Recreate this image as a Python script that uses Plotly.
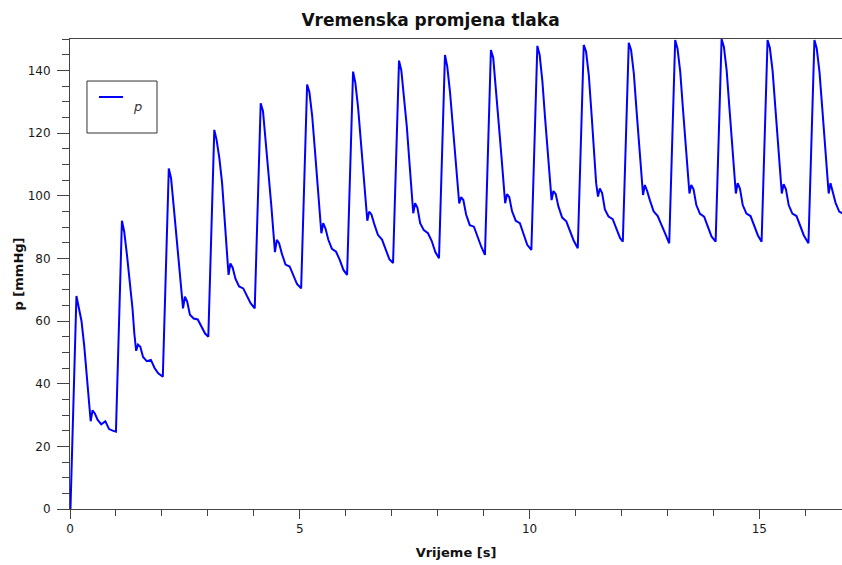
import plotly.graph_objects as go

# time (s) of the trough that opens each beat, and the pressure there
t_trough = [0.01, 1.00, 2.02, 3.01, 4.02, 5.03, 6.03, 7.03, 8.03, 9.03,
            10.04, 11.05, 12.03, 13.04, 14.05, 15.05, 16.07]
p_trough = [0, 24.7, 42.2, 55.0, 64.0, 70.4, 74.7, 78.5, 80.0, 81.1,
            82.7, 83.2, 85.3, 84.8, 85.3, 85.3, 84.8]

# time after the trough (s) at which each key point of a beat sits
phase = [0.0, 0.13, 0.18, 0.24, 0.30, 0.36, 0.40, 0.44, 0.48, 0.53,
         0.59, 0.67, 0.76, 0.84, 0.92]

# pressure (mmHg) at the key points, one value per beat
p_peak = [68, 92, 108.7, 121, 129.5, 135.5, 139.6, 143.1, 144.9, 146.5,
          147.8, 148.1, 148.8, 149.7, 150, 149.7, 149.7]
p_fall1 = [64.6, 88.5, 105.5, 117.8, 127, 133, 136, 140, 141.2, 144,
           145, 146, 146.5, 147, 147.5, 147.2, 147]
p_fall2 = [60, 81, 96, 112, 118, 125.5, 128, 131.5, 133, 134.5,
           136.5, 138.5, 139, 139.5, 140, 139.8, 139.5]
p_fall3 = [52, 72.5, 87, 104, 107, 114.5, 117, 122, 122.5, 123,
           124.5, 126, 127, 127.5, 128, 128, 128]
p_fall4 = [41, 64, 77, 92, 97, 102, 106.5, 110, 112.5, 112.4,
           113.5, 114, 115, 115.5, 116, 116, 116]
p_fall5 = [33, 56, 70, 84, 90.5, 96, 99.5, 102.5, 106.5, 105,
           105, 104, 105, 105.5, 106, 106, 106]
p_notch = [28, 50.5, 64, 74.7, 82, 88, 92, 94.4, 97.5, 97.6,
           98.6, 99.7, 100.2, 100.7, 100.7, 100.7, 100.7]
p_bump = [31.5, 52.5, 67.8, 78.4, 85.9, 91.2, 94.9, 97.6, 99.5, 100.5,
          101.5, 102.3, 103.4, 103.4, 104, 103.7, 104]
p_after = [30.5, 51.8, 66.2, 77, 84.8, 89.5, 94, 96.2, 98.6, 99.5,
           100.5, 100.8, 101.5, 102, 102.2, 102, 101.5]
p_sh1 = [28.5, 48.5, 62, 73.5, 81.5, 86, 91, 91.2, 94, 95,
         96.5, 95.6, 98.5, 97, 97, 97, 97.7]
p_sh2 = [27, 47.2, 60.8, 71, 78, 83, 87.5, 89, 90.6, 92,
         93, 93.3, 95, 94.2, 94.3, 94.3, 94.9]
p_sh3 = [28, 47.6, 60.5, 70.4, 77.4, 82.1, 86, 88, 90.1, 91.2,
         91.8, 92.5, 93.5, 93.3, 93.5, 93.5, 94.2]
p_late1 = [25.5, 45, 58.3, 67.8, 74.3, 79.5, 83, 85.6, 86.7, 87.6,
           89, 89.5, 91, 90.3, 90.5, 90.5, 92]
p_late2 = [25, 43.3, 56, 65.7, 71.8, 76.3, 79.7, 82, 83.7, 84.3,
           85.7, 86.5, 88, 87, 87.3, 87.3, 90]

key_points = [p_trough, p_peak, p_fall1, p_fall2, p_fall3, p_fall4, p_fall5,
              p_notch, p_bump, p_after, p_sh1, p_sh2, p_sh3, p_late1, p_late2]

t, p = [0.0], [0.0]
for i, t0 in enumerate(t_trough):
    for ph, vals in zip(phase, key_points):
        t.append(t0 + ph)
        p.append(vals[i])

fig = go.Figure()
fig.add_trace(go.Scatter(x=t, y=p, mode="lines", name="p",
                         line=dict(color="#0000ff", width=2),
                         showlegend=False))

axis_col = "#444444"
tick_font = dict(family="DejaVu Sans", size=12, color="#1a1a1a")
title_font = dict(family="DejaVu Sans", size=13, color="#111111")

fig.update_layout(
    width=842, height=565,
    margin=dict(l=70, r=0, t=39, b=56),
    paper_bgcolor="white", plot_bgcolor="white",
    title=dict(text="<b>Vremenska promjena tlaka</b>", x=430.5 / 842, xanchor="center",
               y=1 - 20 / 565, yanchor="middle",
               font=dict(family="DejaVu Sans", size=17, color="#111111")),
    xaxis=dict(range=[0, 16.8], tick0=0, dtick=5, ticks="outside", ticklen=9,
               tickcolor=axis_col, showline=True, linecolor=axis_col, linewidth=1,
               mirror=True, showgrid=False, zeroline=False, tickfont=tick_font,
               automargin=False,
               minor=dict(dtick=1, ticks="outside", ticklen=6, tickcolor=axis_col),
               title=dict(text="<b>Vrijeme [s]</b>", font=title_font, standoff=12)),
    yaxis=dict(range=[0, 150], tick0=0, dtick=20, ticks="outside", ticklen=12,
               tickcolor=axis_col, showline=True, linecolor=axis_col, linewidth=1,
               showgrid=False, zeroline=False, tickfont=tick_font,
               ticklabelstandoff=4, automargin=False,
               minor=dict(dtick=5, ticks="outside", ticklen=7, tickcolor=axis_col),
               title=dict(text="<b>p [mmHg]</b>", font=title_font, standoff=1)),
)

# legend box drawn by hand so it matches the original frame
fig.add_shape(type="rect", xref="paper", yref="paper",
              x0=0.022, x1=0.1127, y0=0.80, y1=0.9106,
              line=dict(color="#333333", width=1), fillcolor="white")
fig.add_shape(type="line", xref="paper", yref="paper",
              x0=0.0376, x1=0.0687, y0=0.8766, y1=0.8766,
              line=dict(color="#0000ff", width=2))
fig.add_annotation(text="<i>p</i>", xref="paper", yref="paper",
                   x=0.088, y=0.8766, showarrow=False, xanchor="center",
                   font=dict(family="DejaVu Sans", size=13, color="#333333"))

# drop the browser's default 8px body margin so the figure fills the window
fig.write_html("out.html", config={"displayModeBar": False},
               post_script="document.body.style.margin = '0px';")
